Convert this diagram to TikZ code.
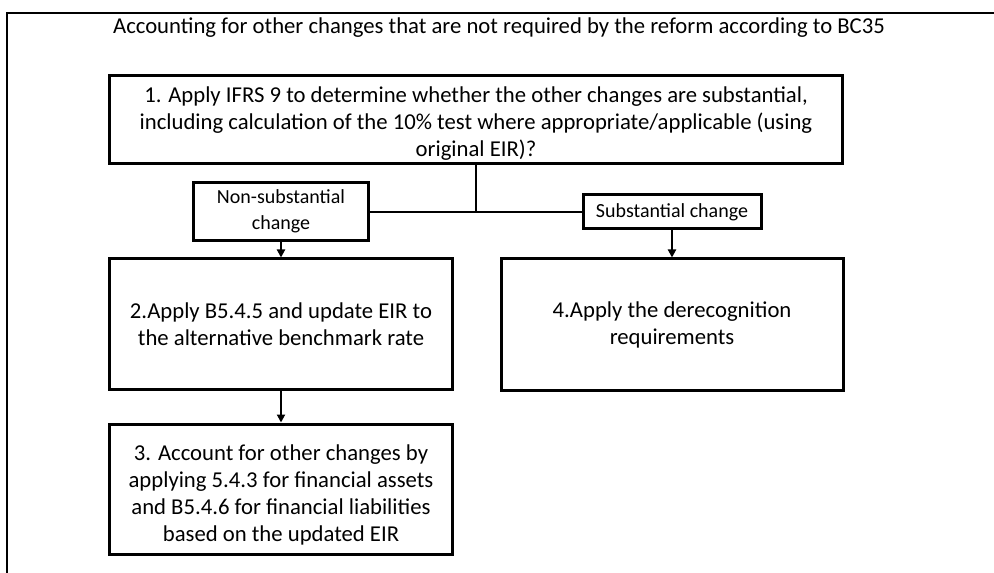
\documentclass[tikz,border=0pt]{standalone}
\usepackage{fontspec}
\setmainfont{Carlito}
\usetikzlibrary{arrows.meta}
\begin{document}
\begin{tikzpicture}[x=1bp,y=-1bp,
  txt/.style={font=\fontsize{22.7bp}{27bp}\selectfont},
  box/.style={txt,draw=black,line width=3bp,fill=white,align=center,inner sep=0pt},
  small/.style={box,font=\fontsize{20bp}{26bp}\selectfont},
  conn/.style={line width=2.6bp,draw=black},
  arr/.style={conn,-{Triangle[length=8bp,width=8bp]}}]
\useasboundingbox (0,0) rectangle (994,573);
\fill[white] (0,0) rectangle (994,573);
\draw[line width=2.6bp] (7,573) -- (7,13) -- (994,13);
\node[txt] (title) at (499,28) {Accounting for other changes that are not required by the reform according to BC35};
\node[box,minimum width=732bp,minimum height=88bp] (b1) at (476,120)
  {\rule{0pt}{22bp}1. Apply IFRS 9 to determine whether the other changes are substantial,\\including calculation of the 10\% test where appropriate/applicable (using\\original EIR)?};
\node[small,minimum width=175bp,minimum height=57bp] (ns) at (281,211.5) {Non-substantial\\change};
\node[small,minimum width=178bp,minimum height=34bp] (s) at (672,212) {Substantial change};
\node[box,minimum width=342bp,minimum height=130bp] (b2) at (281,324) {2.Apply B5.4.5 and update EIR to\\the alternative benchmark rate};
\node[box,minimum width=342bp,minimum height=131bp] (b4) at (672,324.5) {4.Apply the derecognition\\requirements};
\node[box,minimum width=342bp,minimum height=130bp] (b3) at (281,489) {\rule{0pt}{27bp}3. Account for other changes by\\applying 5.4.3 for financial assets\\and B5.4.6 for financial liabilities\\based on the updated EIR};
\coordinate (j) at (b1.south |- s.west);
\draw[conn] (b1.south) -- (j);
\draw[conn] (ns.east |- j) -- (s.west);
\draw[arr] (ns.south) -- (b2.north);
\draw[arr] (s.south) -- (b4.north);
\draw[arr] (b2.south) -- (b3.north);
\end{tikzpicture}
\end{document}
